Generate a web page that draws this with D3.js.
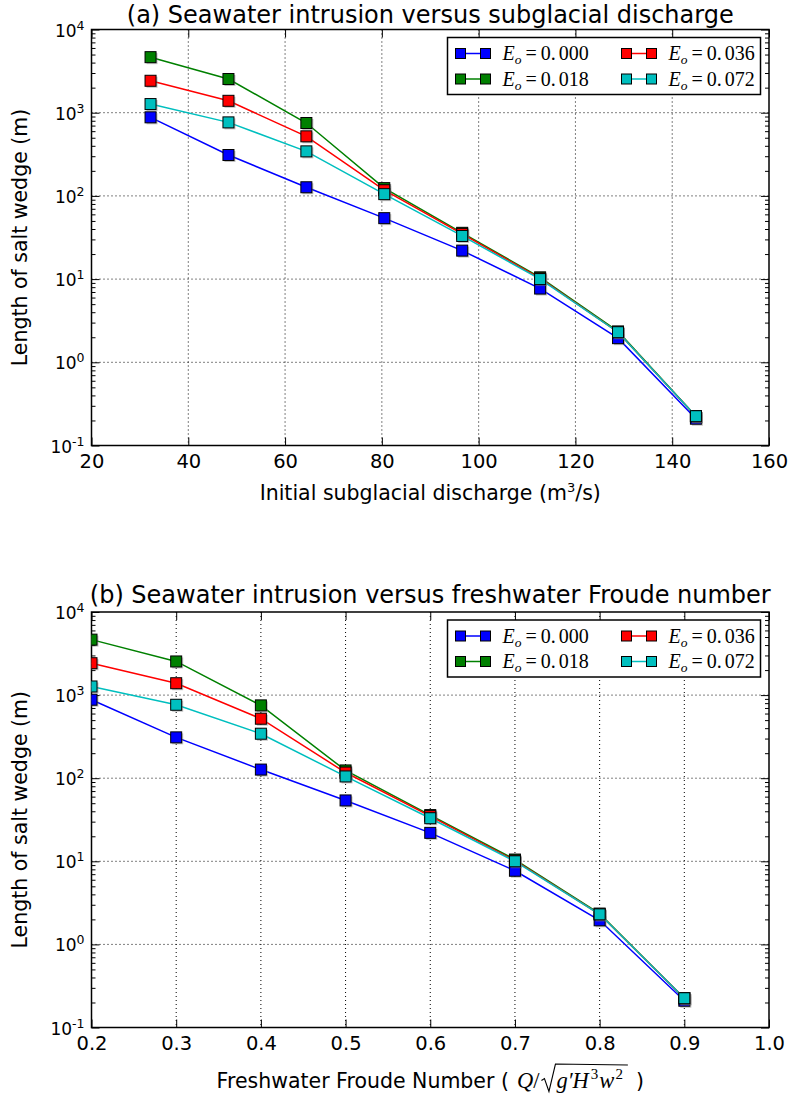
<!DOCTYPE html>
<html>
<head>
<meta charset="utf-8">
<script src="https://cdn.jsdelivr.net/npm/d3@7"></script>
<style>
  body { margin: 0; background: #fff; }
  svg { display: block; }
</style>
</head>
<body>
<svg id="chart" width="790" height="1099"></svg>
<script>
// x values of both panels
var discharge = [32.2, 48.3, 64.4, 80.5, 96.6, 112.7, 128.8, 144.9];
var froude = [0.2, 0.3, 0.4, 0.5, 0.6, 0.7, 0.8, 0.9];

// salt wedge length (m), one array per entrainment coefficient
var wedgeE000 = [880, 310, 127, 54, 22, 7.7, 1.95, 0.21];
var wedgeE018 = [4650, 2540, 752, 124, 36, 10.5, 2.35, 0.225];
var wedgeE036 = [2420, 1390, 520, 117, 35, 10.2, 2.3, 0.225];
var wedgeE072 = [1270, 765, 343, 105, 33, 10, 2.3, 0.225];

var seriesLabels = ["0.000", "0.018", "0.036", "0.072"];
var seriesColors = ["#0000ff", "#008000", "#ff0000", "#00bfbf"];
var seriesValues = [wedgeE000, wedgeE018, wedgeE036, wedgeE072];

var dischargeTicks = [20, 40, 60, 80, 100, 120, 140, 160];
var froudeTicks = [0.2, 0.3, 0.4, 0.5, 0.6, 0.7, 0.8, 0.9, 1.0];
var decadeExponents = [-1, 0, 1, 2, 3, 4];

var svg = d3.select("#chart");
var sans = "DejaVu Sans";
var serif = "Liberation Serif";

var left = 91.5, right = 769;

function drawPanel(p) {
    var g = svg.append("g");
    var x = d3.scaleLinear().domain(p.xDomain).range([left, right]);
    var y = d3.scaleLog().domain([0.1, 10000]).range([p.bottom, p.top]);

    var majors = decadeExponents.map(function(e) { return Math.pow(10, e); });
    var minors = [];
    decadeExponents.slice(0, -1).forEach(function(e) {
        for (var k = 2; k <= 9; k++) minors.push(k * Math.pow(10, e));
    });

    // grid
    g.append("g").selectAll("line.vx").data(p.xTicks.slice(1, -1)).enter().append("line")
        .attr("x1", function(d) { return x(d); }).attr("x2", function(d) { return x(d); })
        .attr("y1", p.top).attr("y2", p.bottom)
        .attr("stroke", "#000").attr("stroke-width", 1).attr("stroke-dasharray", "1,3");
    g.append("g").selectAll("line.hy").data(majors.slice(1, -1)).enter().append("line")
        .attr("x1", left).attr("x2", right)
        .attr("y1", function(d) { return y(d); }).attr("y2", function(d) { return y(d); })
        .attr("stroke", "#000").attr("stroke-width", 1).attr("stroke-dasharray", "1,3");

    // ticks, all pointing inward
    var xb = g.append("g").attr("transform", "translate(0," + p.bottom + ")")
        .call(d3.axisBottom(x).tickValues(p.xTicks).tickSizeInner(-8).tickSizeOuter(0)
            .tickPadding(9).tickFormat(p.xFormat));
    xb.selectAll("text").attr("font-family", sans).attr("font-size", 19.5).attr("fill", "#000");
    g.append("g").attr("transform", "translate(0," + p.top + ")")
        .call(d3.axisTop(x).tickValues(p.xTicks).tickSizeInner(-8).tickSizeOuter(0).tickFormat(""));

    var yl = g.append("g").attr("transform", "translate(" + left + ",0)")
        .call(d3.axisLeft(y).tickValues(majors).tickSizeInner(-8).tickSizeOuter(0).tickPadding(7).tickFormat(""));
    g.append("g").attr("transform", "translate(" + left + ",0)")
        .call(d3.axisLeft(y).tickValues(minors).tickSizeInner(-4).tickSizeOuter(0).tickFormat(""));
    g.append("g").attr("transform", "translate(" + right + ",0)")
        .call(d3.axisRight(y).tickValues(majors).tickSizeInner(-8).tickSizeOuter(0).tickFormat(""));
    g.append("g").attr("transform", "translate(" + right + ",0)")
        .call(d3.axisRight(y).tickValues(minors).tickSizeInner(-4).tickSizeOuter(0).tickFormat(""));
    g.selectAll(".domain").remove();
    g.selectAll(".tick line").attr("stroke", "#000").attr("stroke-width", 1);

    yl.selectAll(".tick text").each(function(d) {
        var t = d3.select(this).attr("dy", null).attr("y", 6.5)
            .attr("font-family", sans).attr("fill", "#000");
        t.append("tspan").attr("font-size", 17).text("10");
        t.append("tspan").attr("font-size", 12.5).attr("dy", -7).text(Math.round(Math.log10(d)));
    });

    // frame
    g.append("rect").attr("x", left).attr("y", p.top)
        .attr("width", right - left).attr("height", p.bottom - p.top)
        .attr("fill", "none").attr("stroke", "#000").attr("stroke-width", 1.5);

    // data
    var clipId = "clip" + p.id;
    svg.append("clipPath").attr("id", clipId).append("rect")
        .attr("x", left).attr("y", p.top).attr("width", right - left).attr("height", p.bottom - p.top);
    var plot = g.append("g").attr("clip-path", "url(#" + clipId + ")");
    var line = d3.line().x(function(d) { return x(d[0]); }).y(function(d) { return y(d[1]); });
    var ms = 11;

    seriesValues.forEach(function(vals, i) {
        var pts = p.xs.map(function(xv, j) { return [xv, vals[j]]; });
        plot.append("path").attr("d", line(pts)).attr("fill", "none")
            .attr("stroke", seriesColors[i]).attr("stroke-width", 1.5);
        plot.append("g").selectAll("rect").data(pts).enter().append("rect")
            .attr("x", function(d) { return x(d[0]) - ms / 2 + 1.5; })
            .attr("y", function(d) { return y(d[1]) - ms / 2 + 1.5; })
            .attr("width", ms).attr("height", ms).attr("fill", "#777").attr("opacity", 0.45);
        plot.append("g").selectAll("rect").data(pts).enter().append("rect")
            .attr("x", function(d) { return x(d[0]) - ms / 2; })
            .attr("y", function(d) { return y(d[1]) - ms / 2; })
            .attr("width", ms).attr("height", ms)
            .attr("fill", seriesColors[i]).attr("stroke", "#000").attr("stroke-width", 1);
    });

    // legend
    var lg = g.append("g").attr("transform", "translate(447.5," + (p.top + 8) + ")");
    lg.append("rect").attr("width", 313).attr("height", 57)
        .attr("fill", "#fff").attr("stroke", "#000").attr("stroke-width", 1.5);
    seriesLabels.forEach(function(lab, i) {
        var cx = i < 2 ? 0 : 166, cy = i % 2 === 0 ? 16 : 41.5;
        var e = lg.append("g").attr("transform", "translate(" + cx + "," + cy + ")");
        e.append("line").attr("x1", 13).attr("x2", 38).attr("stroke", seriesColors[i]).attr("stroke-width", 1.5);
        [13, 38].forEach(function(mx) {
            e.append("rect").attr("x", mx - 5).attr("y", -5).attr("width", 10).attr("height", 10)
                .attr("fill", seriesColors[i]).attr("stroke", "#000").attr("stroke-width", 1);
        });
        var t = e.append("text").attr("x", 55).attr("y", 6.5)
            .attr("font-family", serif).attr("font-size", 20).attr("fill", "#000");
        t.append("tspan").attr("font-style", "italic").text("E");
        t.append("tspan").attr("font-style", "italic").attr("font-size", 13.5).attr("dy", 4).text("o");
        t.append("tspan").attr("dy", -4).attr("dx", 4).text("=");
        t.append("tspan").attr("dx", 4).text(lab.slice(0, 2));
        t.append("tspan").attr("dx", 3).text(lab.slice(2));
    });

    // title
    svg.append("text").attr("x", (left + right) / 2).attr("y", p.titleY)
        .attr("text-anchor", "middle").attr("font-family", sans).attr("font-size", 24)
        .attr("fill", "#000").text(p.title);

    // y label
    svg.append("text").attr("transform", "translate(27," + (p.top + p.bottom) / 2 + ") rotate(-90)")
        .attr("text-anchor", "middle").attr("font-family", sans).attr("font-size", 20.5)
        .attr("fill", "#000").text("Length of salt wedge (m)");

    p.xLabel(p);
}

drawPanel({
    id: "a", top: 29.5, bottom: 445.5, xDomain: [20, 160], xs: discharge, xTicks: dischargeTicks,
    xFormat: d3.format("d"), titleY: 23,
    title: "(a) Seawater intrusion versus subglacial discharge",
    xLabel: function(p) {
        var t = svg.append("text").attr("x", (left + right) / 2).attr("y", p.bottom + 54)
            .attr("text-anchor", "middle").attr("font-family", sans).attr("font-size", 20.5).attr("fill", "#000");
        t.append("tspan").text("Initial subglacial discharge (m");
        t.append("tspan").attr("font-size", 13).attr("dy", -8).text("3");
        t.append("tspan").attr("dy", 8).text("/s)");
    }
});

drawPanel({
    id: "b", top: 612, bottom: 1027.5, xDomain: [0.2, 1.0], xs: froude, xTicks: froudeTicks,
    xFormat: d3.format(".1f"), titleY: 603,
    title: "(b) Seawater intrusion versus freshwater Froude number",
    xLabel: function(p) {
        var base = p.bottom + 60;
        var g = svg.append("g");
        var cur = 0;
        var t1 = g.append("text").attr("x", cur).attr("y", base).attr("font-family", sans)
            .attr("font-size", 20.5).attr("fill", "#000").text("Freshwater Froude Number (");
        cur += t1.node().getComputedTextLength() + 8;
        var t2 = g.append("text").attr("x", cur).attr("y", base).attr("font-family", serif)
            .attr("font-size", 22.5).attr("fill", "#000");
        t2.append("tspan").attr("font-style", "italic").text("Q");
        t2.append("tspan").text("/");
        cur += t2.node().getComputedTextLength() + 2;
        var rx = cur;
        cur += 14;
        var t3 = g.append("text").attr("x", cur + 1).attr("y", base).attr("font-family", serif)
            .attr("font-size", 22.5).attr("fill", "#000");
        t3.append("tspan").attr("font-style", "italic").text("g\u2032H");
        t3.append("tspan").attr("font-size", 15).attr("dx", 2).attr("dy", -9).text("3");
        t3.append("tspan").attr("font-style", "italic").attr("font-size", 22.5).attr("dx", 1).attr("dy", 9).text("w");
        t3.append("tspan").attr("font-size", 15).attr("dx", 1).attr("dy", -9).text("2");
        cur += t3.node().getComputedTextLength() + 10;
        g.append("path")
            .attr("d", "M" + rx + "," + (base - 7) + " l3,-2 l4.5,13 l6.5,-27.5 L" + cur + "," + (base - 22.5))
            .attr("fill", "none").attr("stroke", "#000").attr("stroke-width", 1.1);
        cur += 8;
        var t4 = g.append("text").attr("x", cur).attr("y", base).attr("font-family", sans)
            .attr("font-size", 20.5).attr("fill", "#000").text(")");
        cur += t4.node().getComputedTextLength();
        g.attr("transform", "translate(" + ((left + right) / 2 - cur / 2) + ",0)");
    }
});
</script>
</body>
</html>
